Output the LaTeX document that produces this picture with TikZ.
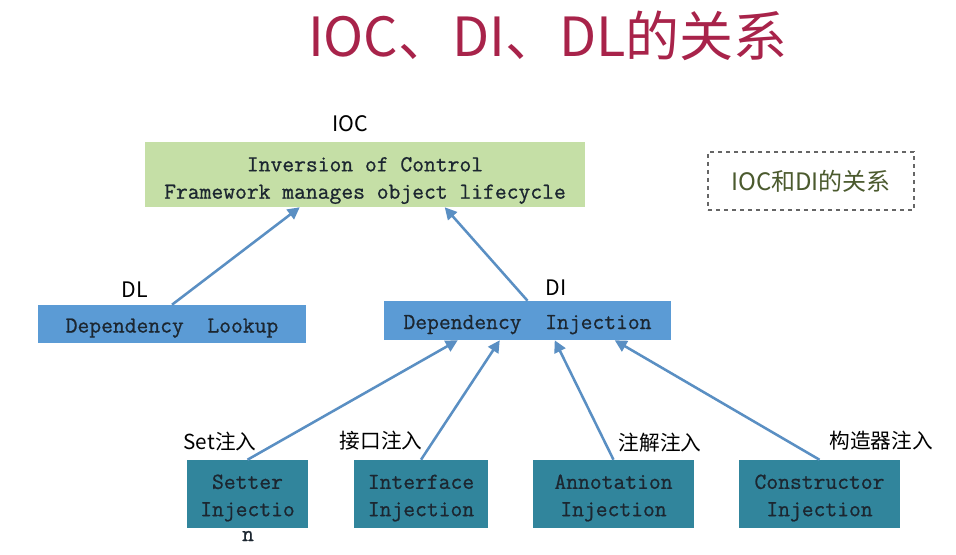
\documentclass[tikz,border=0pt]{standalone}
\usepackage{fontspec}
\newfontfamily\cjk{Noto Sans CJK SC}
\newfontfamily\boxmono{Latin Modern Mono}[FakeBold=0.8]
\usepackage{xcolor}
\usetikzlibrary{arrows.meta, positioning, calc}
\definecolor{iocgreen}{HTML}{C5DFA6}
\definecolor{diblue}{HTML}{5B9BD5}
\definecolor{injteal}{HTML}{31859C}
\definecolor{arrowblue}{HTML}{5A8FC3}
\definecolor{titlered}{HTML}{A8234A}
\definecolor{boxtext}{HTML}{1C2630}
\definecolor{noteolive}{HTML}{4B5A2E}
% 框内文字, 稍微下移
\newcommand\boxlines[2][-2.3pt]{\raisebox{#1}[\height][\depth]{\begin{tabular}{@{}c@{}}#2\end{tabular}}}

\begin{document}
\begin{tikzpicture}[x=0.75pt, y=-0.75pt,
    box/.style={rectangle, inner sep=0pt, align=center, text=boxtext,
        font=\boxmono\fontsize{17.2}{20.5}\selectfont},
    tag/.style={inner sep=0pt, font=\cjk\fontsize{15.5}{18}\selectfont},
    arr/.style={draw=arrowblue, line width=1.9pt, -{Triangle[length=9pt, width=9pt]}}]
    \useasboundingbox (0,0) rectangle (956,555);
    \fill[white] (0,0) rectangle (956,555);

    % 标题
    \node[font=\cjk\fontsize{40.5}{44}\selectfont, text=titlered] (title) at (548,36) {IOC、DI、DL的关系};

    % IOC
    \node[box, fill=iocgreen, minimum width=330pt, minimum height=48.75pt] (ioc) at (365,174.5)
        {\boxlines[-3.8pt]{Inversion of Control\\Framework manages object lifecycle}};
    \node[tag, font=\cjk\fontsize{16}{18}\selectfont] (ioclbl) at (350,124) {IOC};

    \node[draw=gray!80!black, dashed, line width=0.8pt, minimum width=154.5pt, minimum height=43.5pt,
        text=noteolive, font=\cjk\fontsize{18}{20}\selectfont] (note) at (811,181) {IOC和DI的关系};

    % DL 和 DI
    \node[box, fill=diblue, minimum width=201pt, minimum height=28.5pt] (dl) at (172,324)
        {\boxlines{Dependency\ \ Lookup}};
    \node[tag, font=\cjk\fontsize{16}{18}\selectfont] (dllbl) at (135,290) {DL};
    \node[box, fill=diblue, minimum width=215.25pt, minimum height=29.25pt] (di) at (527.5,320.5)
        {\boxlines{Dependency\ \ Injection}};
    \node[tag, font=\cjk\fontsize{16}{18}\selectfont] (dilbl) at (556,288) {DI};

    \draw[arr] (dl.north) -- ($(ioc.south west)+(155,0)$);
    \draw[arr] (di.north) -- ($(ioc.south west)+(300,0)$);

    % 四种注入方式
    \node[box, fill=injteal, minimum width=90.75pt, minimum height=51pt] (setter) at (247.5,494)
        {\boxlines{Setter\\Injectio}};
    \node[box] (settern) at (248,536) {n};
    \node[box, fill=injteal, minimum width=100.5pt, minimum height=51pt] (iface) at (421,494)
        {\boxlines{Interface\\Injection}};
    \node[box, fill=injteal, minimum width=120.75pt, minimum height=51pt] (annot) at (613.5,494)
        {\boxlines{Annotation\\Injection}};
    \node[box, fill=injteal, minimum width=120.75pt, minimum height=51pt] (ctor) at (819.5,494)
        {\boxlines{Constructor\\Injection}};

    \node[tag] (setlbl) at (220,442) {Set注入};
    \node[tag] (ifacelbl) at (381,441) {接口注入};
    \node[tag] (annotlbl) at (660,443) {注解注入};
    \node[tag] (ctorlbl) at (881,441) {构造器注入};

    \draw[arr] (setter.north) -- ($(di.south west)+(74,0)$);
    \draw[arr] (iface.north) -- ($(di.south west)+(116,0)$);
    \draw[arr] (annot.north) -- ($(di.south west)+(171,0)$);
    \draw[arr] (ctor.north) -- ($(di.south west)+(231,0)$);
\end{tikzpicture}
\end{document}
